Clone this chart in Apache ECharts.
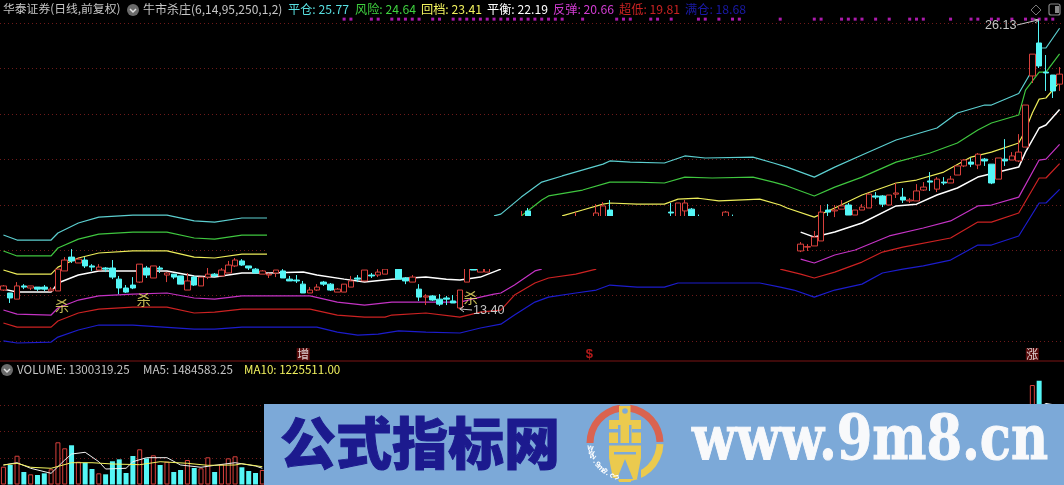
<!DOCTYPE html>
<html><head><meta charset="utf-8">
<style>html,body{margin:0;padding:0;background:#000}#c{width:1064px;height:485px}</style>
<script src="https://cdn.jsdelivr.net/npm/echarts@6/dist/echarts.min.js"></script>
</head><body><div id="c"></div>
<script>
// [index, open, close, low, high]
const candles=[
[0,14.25,14.43,14.21,14.47],[1,14.12,13.90,13.68,14.12],[2,13.85,14.43,13.85,14.60],[3,14.43,14.38,14.29,14.51],[4,14.34,14.43,14.25,14.43],
[5,14.38,14.29,14.21,14.38],[6,14.38,14.29,14.21,14.47],[7,14.21,14.29,14.21,14.38],[8,14.21,15.17,14.21,15.17],[9,15.09,15.57,15.09,15.70],
[10,15.70,15.53,15.44,16.05],[11,15.44,15.61,15.44,15.70],[12,15.57,15.31,15.22,15.70],[13,15.31,15.26,15.09,15.39],[14,15.13,15.26,15.13,15.39],
[15,15.22,15.17,15.04,15.26],[16,15.22,14.82,14.73,15.57],[17,14.73,14.34,14.07,14.87],[18,14.34,14.16,14.12,14.47],[19,14.47,14.34,14.29,14.82],
[20,14.60,15.39,14.56,15.39],[21,15.22,14.91,14.78,15.31],[22,14.78,15.31,14.78,15.31],[23,15.22,15.17,15.00,15.31],[24,14.91,15.00,14.60,15.04],
[25,14.95,14.82,14.73,14.95],[26,14.87,14.51,14.51,14.87],[27,14.25,14.65,14.25,15.00],[28,14.82,14.47,14.43,14.87],[29,14.43,14.82,14.43,14.82],
[30,14.82,14.95,14.73,15.22],[31,14.95,14.87,14.87,15.00],[32,14.87,15.13,14.87,15.22],[33,15.00,15.35,15.00,15.53],[34,15.31,15.57,15.26,15.66],
[35,15.53,15.35,15.31,15.61],[36,15.31,15.22,15.13,15.31],[37,15.17,15.00,15.00,15.22],[38,14.95,15.09,14.95,15.13],[39,14.91,14.95,14.78,15.00],
[40,15.00,15.13,14.82,15.13],[41,15.09,14.78,14.78,15.17],[42,14.73,14.65,14.65,14.87],[43,14.69,14.65,14.56,14.91],[44,14.51,14.12,14.12,14.65],
[45,14.12,14.25,14.12,14.38],[46,14.25,14.38,14.21,14.51],[47,14.60,14.51,14.43,14.65],[48,14.51,14.25,14.21,14.56],[49,14.16,14.29,14.16,14.34],
[50,14.16,14.51,14.16,14.51],[51,14.38,14.65,14.38,14.87],[52,14.78,14.73,14.60,14.91],[53,14.65,15.13,14.65,15.13],[54,14.91,14.87,14.78,15.00],
[55,14.91,15.04,14.82,15.17],[56,14.95,15.17,14.95,15.17],[58,15.30,14.73,14.73,15.30],[59,14.78,14.65,14.51,14.82],[60,14.60,14.82,14.60,14.91],
[61,14.29,13.94,13.77,14.51],[62,13.94,13.99,13.59,14.07],[63,13.99,13.81,13.77,14.03],[64,13.85,13.63,13.55,14.07],[65,13.90,13.85,13.59,13.99],
[66,13.77,13.68,13.68,14.03],[67,13.46,14.25,13.40,14.25],[68,14.60,15.35,14.60,15.35],[69,15.20,15.13,15.13,15.20],[70,15.04,15.30,15.04,15.30],
[71,15.04,15.30,15.04,15.30],
[76,17.20,17.30,17.20,17.73],[77,17.73,17.20,17.20,17.86],[84,17.20,17.30,17.20,17.68],[87,17.20,17.64,17.20,18.03],[88,17.20,17.95,17.20,18.12],
[89,17.77,17.20,17.20,18.21],[98,17.68,17.64,17.20,18.08],[99,17.20,18.08,17.20,18.08],[100,17.73,18.08,17.40,18.21],[101,17.81,17.20,17.20,17.86],
[102,17.30,17.25,17.20,17.57],[106,17.20,17.68,17.20,17.73],[107,17.30,17.25,17.20,17.57],
[117,15.97,16.27,15.92,16.36],[118,16.14,16.16,15.97,16.27],[119,16.19,16.58,16.19,16.85],[120,16.41,17.68,16.41,17.99],[121,17.77,17.68,17.51,18.03],
[122,17.73,17.77,17.46,17.99],[123,17.81,17.95,17.81,18.21],[124,17.99,17.55,17.55,18.08],[125,17.55,17.77,17.55,17.77],[126,17.77,17.90,17.77,18.03],
[127,17.86,18.47,17.86,18.52],[128,18.39,18.34,18.25,18.56],[129,18.39,18.03,17.90,18.43],[130,17.99,18.43,17.99,18.43],[131,18.47,18.52,18.30,18.96],
[132,18.34,18.21,18.08,18.74],[133,18.17,18.21,18.08,18.30],[134,18.17,18.61,18.17,18.91],[135,18.65,18.78,18.61,19.00],[136,19.05,19.00,18.61,19.44],
[137,18.69,19.13,18.56,19.22],[138,19.00,18.96,18.87,19.22],[139,18.96,19.13,18.96,19.27],[140,19.31,19.71,19.31,19.71],[141,19.71,19.97,19.66,20.01],
[142,19.88,19.79,19.66,20.06],[143,19.75,20.23,19.57,20.28],[144,20.01,19.93,19.71,20.06],[145,19.79,18.96,18.91,19.79],[146,19.13,20.06,19.13,20.06],
[147,20.01,19.93,19.71,20.89],[148,19.97,20.15,19.97,20.32],[149,19.93,20.32,19.88,21.11],[150,20.54,22.39,20.54,22.39],[151,23.67,24.63,23.36,24.63],
[152,25.12,24.11,24.02,26.13],[153,23.84,23.80,23.01,24.59],[154,23.71,23.01,22.70,23.71],[155,23.31,23.75,23.01,24.06]
];
const pingCang=[[0,16.67],[2,16.45],[7,16.45],[8,16.76],[11,17.2],[14,17.46],[19,17.55],[24,17.55],[28,17.29],[31,17.24],[35,17.42],[39,17.42],[40,null],[72,17.51],[73,17.59],[76,18.34],[79,19.0],[82,19.27],[88,19.79],[89,19.93],[92,19.88],[97,19.84],[100,20.15],[103,20.06],[110,20.1],[113,19.84],[115,19.66],[119,19.22],[122,19.66],[126,20.19],[131,20.85],[137,21.38],[140,22.04],[144,22.39],[145,22.39],[149,22.9],[151,23.93],[152,24.9],[153,24.9],[155,25.77]];
const fengXian=[[0,15.97],[2,15.75],[7,15.75],[8,16.1],[11,16.49],[14,16.71],[19,16.8],[24,16.8],[28,16.54],[31,16.49],[35,16.67],[39,16.67],[40,null],[76,17.51],[79,18.21],[80,18.39],[85,18.65],[89,19.0],[93,19.0],[97,18.96],[100,19.22],[104,19.18],[110,19.22],[113,19.0],[115,18.83],[119,18.39],[122,18.78],[126,19.22],[131,19.88],[136,20.28],[140,20.72],[143,21.29],[145,21.6],[149,21.95],[150,23.05],[152,23.84],[153,23.84],[155,24.64]];
const huiDang=[[0,15.13],[2,14.95],[7,14.95],[8,15.26],[11,15.66],[14,15.88],[19,15.97],[24,15.97],[28,15.7],[31,15.66],[35,15.83],[39,15.83],[40,null],[82,17.51],[85,17.77],[88,18.03],[89,18.08],[93,18.03],[97,18.03],[99,18.25],[102,18.29],[105,18.17],[111,18.25],[114,17.99],[115,17.86],[119,17.46],[122,17.86],[126,18.43],[131,18.96],[134,19.09],[138,19.44],[142,20.1],[145,20.32],[149,20.72],[150,21.29],[151,22.04],[152,22.65],[153,22.7],[155,23.41]];
const pingHeng=[[0,14.29],[2,14.16],[7,14.16],[8,14.56],[11,14.91],[14,15.09],[19,15.09],[24,15.09],[28,14.87],[31,14.82],[35,15.0],[39,15.0],[44,15.04],[46,14.91],[50,14.73],[53,14.6],[57,14.73],[62,14.82],[65,14.73],[67,14.69],[70,14.82],[73,15.17],[74,null],[117,16.8],[119,16.58],[122,16.8],[126,17.2],[131,17.95],[134,18.03],[137,18.43],[140,18.74],[143,19.22],[146,19.44],[149,19.66],[150,20.32],[152,21.38],[153,21.51],[155,22.19]];
const fanTan=[[0,13.37],[2,13.19],[7,13.15],[8,13.46],[11,13.81],[14,13.99],[19,14.07],[24,14.12],[28,13.9],[31,13.85],[35,13.99],[39,13.99],[45,13.99],[49,13.72],[53,13.59],[57,13.72],[62,13.72],[67,13.72],[70,13.94],[72,14.07],[73,14.12],[75,14.47],[78,15.09],[79,15.17],[80,null],[117,15.61],[119,15.44],[122,15.79],[125,16.01],[130,16.63],[135,16.98],[139,17.29],[143,17.95],[145,17.99],[149,18.34],[152,19.97],[153,20.01],[155,20.66]];
const chaoDi=[[0,12.8],[2,12.62],[7,12.62],[8,12.89],[11,13.24],[14,13.41],[19,13.5],[24,13.5],[28,13.24],[31,13.28],[35,13.41],[39,13.41],[45,13.41],[49,13.15],[53,13.06],[56,13.06],[57,13.15],[62,13.24],[67,13.06],[70,13.28],[73,13.37],[75,14.03],[78,14.56],[80,14.78],[84,14.95],[87,15.17],[88,null],[114,15.17],[117,14.95],[119,14.78],[122,15.04],[126,15.48],[129,15.92],[132,16.14],[139,16.54],[143,17.24],[145,17.24],[149,17.64],[152,19.18],[153,19.18],[155,19.81]];
const manCang=[[0,12.01],[2,11.92],[7,11.96],[8,12.18],[11,12.49],[14,12.71],[19,12.71],[28,12.53],[31,12.53],[35,12.62],[39,12.62],[46,12.62],[49,12.4],[52,12.27],[55,12.31],[58,12.45],[62,12.4],[67,12.36],[70,12.58],[73,12.75],[75,13.15],[78,13.72],[80,13.94],[84,14.12],[87,14.25],[89,14.47],[93,14.38],[97,14.38],[99,14.56],[111,14.56],[114,14.38],[116,14.25],[119,13.94],[122,14.25],[126,14.51],[129,15.0],[132,15.17],[135,15.31],[139,15.57],[143,16.23],[145,16.23],[149,16.63],[152,18.08],[153,18.08],[155,18.68]];
const signalDots=[50,51,54,55,57,58,59,60,61,63,64,66,67,68,69,70,71,72,73,74,75,76,77,78,79,80,81,82,85,90,91,92,95,96,98,102,103,105,107,108,114,119,120,123,124,125,126,128,130,133,134,135,139,142,143,145,146,148,150,151,152,153,154];
const signalLevel=26.17;
const killMarks=[[8,13.55],[20,13.81],[68,13.90]];
const bottomTags=[[44,'增'],[86,'$'],[151,'涨']];
const tagLevel=11.43;
const volumes=[[0,336000],[1,368000],[2,543000],[3,236000],[4,192000],[5,179000],[6,211000],[7,287000],[8,796000],[9,683000],[10,740000],[11,430000],[12,411000],[13,292000],[14,211000],[15,192000],[16,438000],[17,475000],[18,217000],[19,538000],[20,664000],[21,494000],[22,551000],[23,368000],[24,430000],[25,236000],[26,274000],[27,462000],[28,311000],[29,306000],[30,513000],[31,236000],[32,381000],[33,494000],[34,532000],[35,325000],[36,255000],[37,217000],[38,274000],[151,1877000],[152,1958000],[155,1300319.25]];
const ma5=[[0,368000],[2,411000],[4,306000],[7,211000],[9,462000],[10,575000],[12,608000],[14,430000],[15,292000],[18,306000],[19,430000],[21,506000],[24,506000],[26,368000],[29,325000],[31,362000],[34,411000],[37,349000],[38,306000],[39,null],[152,1450000],[153,1530000],[155,1484583.25]];
const ma10=[[0,368000],[2,400000],[4,325000],[7,306000],[10,411000],[13,411000],[16,387000],[20,374000],[23,430000],[27,400000],[30,362000],[34,368000],[35,392000],[38,336000]];
const legendMain=[['平仓',25.77,'#58dfe0',288],['风险',24.64,'#3fd23f',355],['回档',23.41,'#f2f25e',421],['平衡',22.19,'#ffffff',487],['反弹',20.66,'#d23cd2',553],['超低',19.81,'#c82222',619],['满仓',18.68,'#1a1aa8',685]];
const categories=Array.from({length:156},(_,i)=>String(i+1));

const candleData=categories.map(()=>'-');
const dirs={};
candles.forEach(c=>{candleData[c[0]]=[c[1],c[2],c[3],c[4]];dirs[c[0]]=c[2]>=c[1];});

const RED='#d8403c',CYAN='#55f6f6',GRAY='#c6c6c6',BANNER='#7ca9d8',GOLD='#ebca4e',ORANGE='#da6350';
const band=(d,color,w)=>({type:'line',data:d,xAxisIndex:0,yAxisIndex:0,symbol:'none',connectNulls:false,z:2,clip:true,
  lineStyle:{color:color,width:w||1.2},animation:false});

const g=[];
// erased area of the source screenshot
g.push({type:'rect',z:50,shape:{x:267,y:216,width:530,height:53},style:{fill:'#000'}});
// separator
g.push({type:'line',z:51,shape:{x1:0,y1:361,x2:1064,y2:361},style:{stroke:'#7c1414',lineWidth:1.2}});
const icon=(cx,cy)=>{g.push({type:'circle',z:52,shape:{cx:cx,cy:cy,r:6},style:{fill:'#6a6a6a'}});
 g.push({type:'polyline',z:53,shape:{points:[[cx-3,cy-1],[cx,cy+2],[cx+3,cy-1]]},style:{stroke:'#e0e0e0',lineWidth:1.5,fill:null}});};
icon(133,10);icon(7,370);
const txt=(x,y,t,fill,size,fam)=>g.push({type:'text',z:54,x:x,y:y,style:{text:t,fill:fill,font:(size||12)+'px '+(fam||'"Noto Sans CJK SC","Liberation Sans"'),textVerticalAlign:'middle',verticalAlign:'middle'}});
txt(3,9,'华泰证券(日线,前复权)',GRAY,11.8);
txt(143,9,'牛市杀庄(6,14,95,250,1,2)',GRAY,12);
legendMain.forEach(l=>txt(l[3],9,l[0]+': '+l[1].toFixed(2),l[2],12.2));
txt(17,370,'VOLUME: 1300319.25',GRAY,11.6);
txt(143,370,'MA5: 1484583.25',GRAY,11.6);
txt(244,370,'MA10: 1225511.00','#f2f25e',11.6);
// top right icons
g.push({type:'polygon',z:52,shape:{points:[[1036,5],[1041,10],[1036,15],[1031,10]]},style:{stroke:'#777',fill:null,lineWidth:1}});
g.push({type:'rect',z:52,shape:{x:1049,y:4,width:11,height:11,r:2},style:{stroke:'#888',fill:null,lineWidth:1.2}});
g.push({type:'rect',z:52,shape:{x:1055,y:6,width:4,height:7},style:{fill:'#888'}});
// extreme labels
txt(985,26,'26.13',GRAY,12.6,'"Liberation Sans"');
g.push({type:'polyline',z:53,shape:{points:[[1017,25],[1038,20]]},style:{stroke:GRAY,lineWidth:1,fill:null}});
g.push({type:'polyline',z:53,shape:{points:[[1034,19],[1039,20],[1035,23]]},style:{stroke:GRAY,lineWidth:1,fill:null}});
txt(473,311,'13.40',GRAY,12.6,'"Liberation Sans"');
g.push({type:'polyline',z:53,shape:{points:[[472,310],[460,309]]},style:{stroke:GRAY,lineWidth:1,fill:null}});
g.push({type:'polyline',z:53,shape:{points:[[464,306],[460,309],[464,312]]},style:{stroke:GRAY,lineWidth:1,fill:null}});
// banner
g.push({type:'rect',z:60,shape:{x:264,y:404,width:800,height:81},style:{fill:BANNER}});
g.push({type:'text',z:61,x:280,y:443,style:{text:'公式指标网',fill:'#1c1a8e',font:'900 56px "Noto Sans CJK SC"',verticalAlign:'middle',stroke:'#1c1a8e',lineWidth:1}});
g.push({type:'text',z:61,x:692,y:443,scaleX:0.825,style:{text:'www.9m8.cn',fill:'#f8f9fb',font:'bold 62px "DejaVu Serif"',verticalAlign:'middle',stroke:'#f8f9fb',lineWidth:1}});
// logo
const cx=625,cy=443;const rad=a=>a*Math.PI/180;
const arc=(a,b,f)=>g.push({type:'sector',z:61,shape:{cx:cx,cy:cy,r:38.5,r0:31.5,startAngle:rad(a),endAngle:rad(b),clockwise:true},style:{fill:f}});
arc(180,262,ORANGE);arc(278,358,ORANGE);arc(2,100,GOLD);
const rc=(x,y,w,h,f,z)=>g.push({type:'rect',z:z||62,shape:{x:x,y:y,width:w,height:h},style:{fill:f}});
rc(619,406,11.5,14,GOLD);
rc(609,420,32,58,GOLD);rc(619,478,12,4,GOLD);
g.push({type:'circle',z:63,shape:{cx:625,cy:411,r:2.8},style:{fill:BANNER}});
rc(609,429,9,3.5,BANNER,63);rc(632,429,9,3.5,BANNER,63);
rc(618,425,2.5,20,BANNER,63);rc(629,425,2.5,20,BANNER,63);
rc(609,443,32,2.5,BANNER,63);rc(614,452,22,2.5,BANNER,63);
g.push({type:'polygon',z:63,shape:{points:[[625,459],[617,479],[633,479]]},style:{fill:BANNER}});
g.push({type:'polygon',z:63,shape:{points:[[609,458],[609,479],[613,479]]},style:{fill:BANNER}});
g.push({type:'polygon',z:63,shape:{points:[[641,458],[641,479],[637,479]]},style:{fill:BANNER}});
[...'www.9m8.cn'].forEach((ch,k)=>{const a=rad(172-k*7.6);
 g.push({type:'text',z:64,x:cx+35*Math.cos(a),y:cy+35*Math.sin(a),rotation:-(Math.PI-a),style:{text:ch,fill:'#fff',font:'bold 8px "Liberation Sans"',align:'center',verticalAlign:'middle'}});});

const chart=echarts.init(document.getElementById('c'),null,{renderer:'canvas'});
chart.setOption({
 backgroundColor:'#000',animation:false,
 grid:[{left:0,width:1063,top:0.27,height:386.36},{left:0,width:1063,top:405,height:79.5}],
 xAxis:[{type:'category',data:categories,gridIndex:0,show:false},{type:'category',data:categories,gridIndex:1,show:false}],
 yAxis:[
  {type:'value',gridIndex:0,min:10,max:27,interval:2,axisLine:{show:false},axisTick:{show:false},axisLabel:{show:false},
   splitLine:{show:true,showMinLine:false,showMaxLine:false,lineStyle:{color:'#6e1a1a',type:[1,3],width:1}}},
  {type:'value',gridIndex:1,min:0,max:1500000,interval:500000,axisLine:{show:false},axisTick:{show:false},axisLabel:{show:false},
   splitLine:{show:true,showMinLine:false,lineStyle:{color:'#6e1a1a',type:[1,3],width:1}}}],
 series:[
  band(pingCang,'#5ccfd0'),band(fengXian,'#3fc63f'),band(huiDang,'#ecec5a'),band(pingHeng,'#ffffff',1.5),
  band(fanTan,'#c433c4'),band(chaoDi,'#cc2222'),band(manCang,'#1c1ccc'),
  {type:'candlestick',data:candleData,barWidth:6,z:3,clip:true,
   itemStyle:{color:'#000',color0:CYAN,borderColor:RED,borderColor0:CYAN,borderWidth:1}},
  {type:'scatter',data:signalDots.map(i=>[i,signalLevel]),symbol:'rect',symbolSize:3,z:4,itemStyle:{color:'#d622d6'}},
  {type:'scatter',data:killMarks,symbolSize:1,z:5,itemStyle:{color:'transparent'},
   label:{show:true,formatter:'杀',position:'inside',offset:[4,0],color:'#f8ec6c',fontSize:14,fontFamily:'"Noto Sans CJK SC"'}},
  {type:'scatter',symbolSize:1,z:5,itemStyle:{color:'transparent'},
   data:bottomTags.map(t=>({value:[t[0],tagLevel],name:t[1],
     label:t[1]==='$'?{color:'#e02020',fontWeight:'bold',fontSize:13,backgroundColor:'transparent',fontFamily:'"Liberation Sans"'}:{}})),
   label:{show:true,position:'inside',formatter:p=>p.name,
     color:'#fff',fontSize:12,fontFamily:'"Noto Sans CJK SC"',backgroundColor:'#6e0c0c',padding:[0,0.5]}},
  {type:'bar',xAxisIndex:1,yAxisIndex:1,barWidth:5,z:2,clip:false,
   data:volumes.map(v=>({value:v,itemStyle:dirs[v[0]]?{color:'#000',borderColor:RED,borderWidth:1}:{color:CYAN}}))},
  {type:'line',xAxisIndex:1,yAxisIndex:1,data:ma5,symbol:'none',clip:false,z:3,lineStyle:{color:'#f0f0f0',width:1}},
  {type:'line',xAxisIndex:1,yAxisIndex:1,data:ma10,symbol:'none',clip:false,z:3,lineStyle:{color:'#f2f25e',width:1}}
 ],
 graphic:{elements:g}
});
</script></body></html>
